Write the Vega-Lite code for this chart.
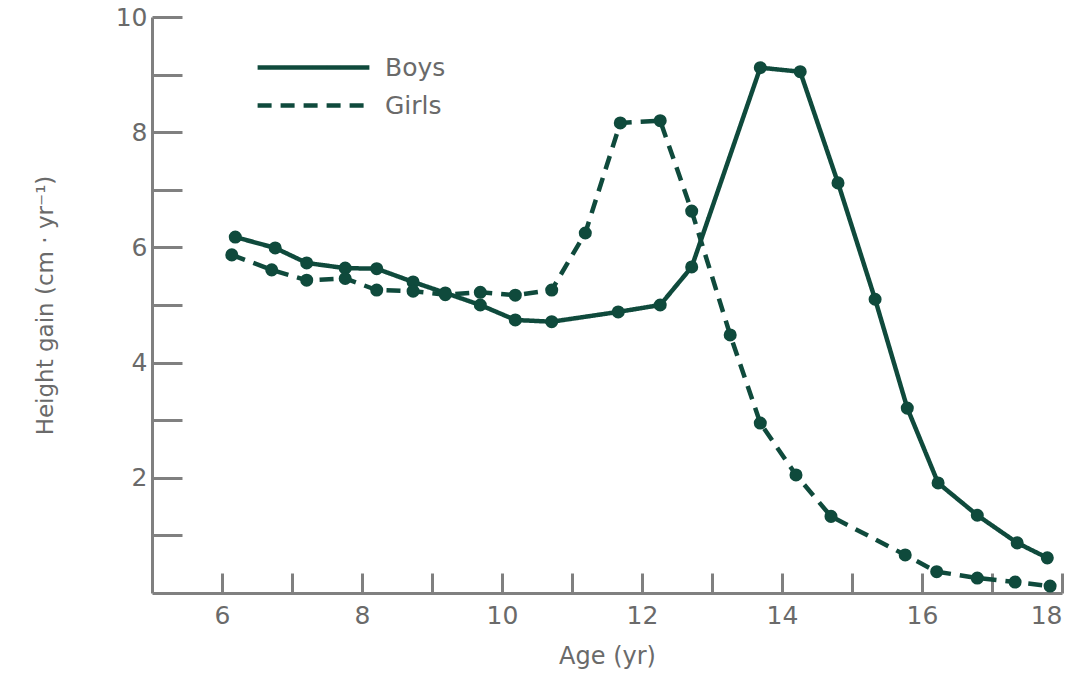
{
  "$schema": "https://vega.github.io/schema/vega-lite/v6.json",
  "width": 910,
  "height": 576,
  "autosize": "none",
  "padding": {"left": 152, "top": 17, "right": 30, "bottom": 84},
  "background": "white",
  "config": {"view": {"stroke": null}, "font": "DejaVu Sans"},
  "data": {"values": [
    {"sex": "Boys", "age": 6.19, "gain": 6.18},
    {"sex": "Boys", "age": 6.76, "gain": 5.99},
    {"sex": "Boys", "age": 7.21, "gain": 5.73},
    {"sex": "Boys", "age": 7.76, "gain": 5.64},
    {"sex": "Boys", "age": 8.21, "gain": 5.63},
    {"sex": "Boys", "age": 8.73, "gain": 5.4},
    {"sex": "Boys", "age": 9.19, "gain": 5.21},
    {"sex": "Boys", "age": 9.69, "gain": 5.0},
    {"sex": "Boys", "age": 10.19, "gain": 4.74},
    {"sex": "Boys", "age": 10.71, "gain": 4.71},
    {"sex": "Boys", "age": 11.66, "gain": 4.88},
    {"sex": "Boys", "age": 12.26, "gain": 5.0},
    {"sex": "Boys", "age": 12.71, "gain": 5.66},
    {"sex": "Boys", "age": 13.69, "gain": 9.12},
    {"sex": "Boys", "age": 14.26, "gain": 9.05},
    {"sex": "Boys", "age": 14.8, "gain": 7.12},
    {"sex": "Boys", "age": 15.33, "gain": 5.1},
    {"sex": "Boys", "age": 15.79, "gain": 3.21},
    {"sex": "Boys", "age": 16.23, "gain": 1.91},
    {"sex": "Boys", "age": 16.79, "gain": 1.35},
    {"sex": "Boys", "age": 17.36, "gain": 0.87},
    {"sex": "Boys", "age": 17.79, "gain": 0.61},
    {"sex": "Girls", "age": 6.14, "gain": 5.87},
    {"sex": "Girls", "age": 6.71, "gain": 5.61},
    {"sex": "Girls", "age": 7.21, "gain": 5.43},
    {"sex": "Girls", "age": 7.76, "gain": 5.46},
    {"sex": "Girls", "age": 8.21, "gain": 5.26},
    {"sex": "Girls", "age": 8.73, "gain": 5.24},
    {"sex": "Girls", "age": 9.19, "gain": 5.18},
    {"sex": "Girls", "age": 9.69, "gain": 5.22},
    {"sex": "Girls", "age": 10.19, "gain": 5.17},
    {"sex": "Girls", "age": 10.71, "gain": 5.26},
    {"sex": "Girls", "age": 11.19, "gain": 6.25},
    {"sex": "Girls", "age": 11.69, "gain": 8.16},
    {"sex": "Girls", "age": 12.26, "gain": 8.2},
    {"sex": "Girls", "age": 12.71, "gain": 6.63},
    {"sex": "Girls", "age": 13.26, "gain": 4.48},
    {"sex": "Girls", "age": 13.69, "gain": 2.95},
    {"sex": "Girls", "age": 14.2, "gain": 2.05},
    {"sex": "Girls", "age": 14.7, "gain": 1.33},
    {"sex": "Girls", "age": 15.76, "gain": 0.66},
    {"sex": "Girls", "age": 16.21, "gain": 0.37},
    {"sex": "Girls", "age": 16.79, "gain": 0.26},
    {"sex": "Girls", "age": 17.33, "gain": 0.19},
    {"sex": "Girls", "age": 17.83, "gain": 0.12}
  ]},
  "encoding": {
    "x": {
      "field": "age", "type": "quantitative",
      "scale": {"domain": [5, 18], "nice": false, "zero": false},
      "axis": {
        "title": "Age (yr)", "values": [6,7,8,9,10,11,12,13,14,15,16,17,18],
        "labelExpr": "datum.value % 2 == 0 ? datum.label : ''",
        "grid": false, "domainColor": "#808080", "domainWidth": 3,
        "tickColor": "#808080", "tickWidth": 3, "tickSize": -20,
        "labelPadding": 30, "labelFontSize": 25, "labelColor": "#6a6a6a",
        "titleFontSize": 24, "titleColor": "#6a6a6a", "titleFontWeight": "normal",
        "titlePadding": 16
      }
    },
    "y": {
      "field": "gain", "type": "quantitative",
      "scale": {"domain": [0, 10], "nice": false},
      "axis": {
        "title": "Height gain (cm · yr⁻¹)", "values": [1,2,3,4,5,6,7,8,9,10],
        "labelExpr": "datum.value % 2 == 0 ? datum.label : ''",
        "grid": false, "domainColor": "#808080", "domainWidth": 3,
        "tickColor": "#808080", "tickWidth": 3, "tickSize": -30,
        "labelPadding": 35, "labelFontSize": 25, "labelColor": "#6a6a6a",
        "titleFontSize": 23, "titleColor": "#6a6a6a", "titleFontWeight": "normal",
        "titlePadding": 58
      }
    }
  },
  "layer": [
    {
      "mark": {"type": "line", "strokeWidth": 4.5},
      "encoding": {
        "color": {"field": "sex", "type": "nominal",
          "scale": {"domain": ["Boys", "Girls"], "range": ["#0f4a3c", "#0f4a3c"]},
          "legend": {"title": null, "orient": "none", "legendX": 148, "legendY": 37,
            "symbolType": "M-5,0H5", "symbolSize": 500, "symbolStrokeWidth": 4.5,
            "labelFontSize": 25, "labelColor": "#6a6a6a", "labelOffset": 58, "rowPadding": 11}},
        "strokeDash": {"field": "sex", "type": "nominal",
          "scale": {"domain": ["Boys", "Girls"], "range": [[1, 0], [14, 9]]},
          "legend": {"title": null, "orient": "none", "legendX": 148, "legendY": 37,
            "symbolType": "M-5,0H5", "symbolSize": 500, "symbolStrokeWidth": 4.5,
            "labelFontSize": 25, "labelColor": "#6a6a6a", "labelOffset": 58, "rowPadding": 11}}
      }
    },
    {
      "mark": {"type": "point", "filled": true, "size": 170, "opacity": 1, "color": "#0f4a3c"},
      "encoding": {"detail": {"field": "sex"}}
    }
  ]
}
